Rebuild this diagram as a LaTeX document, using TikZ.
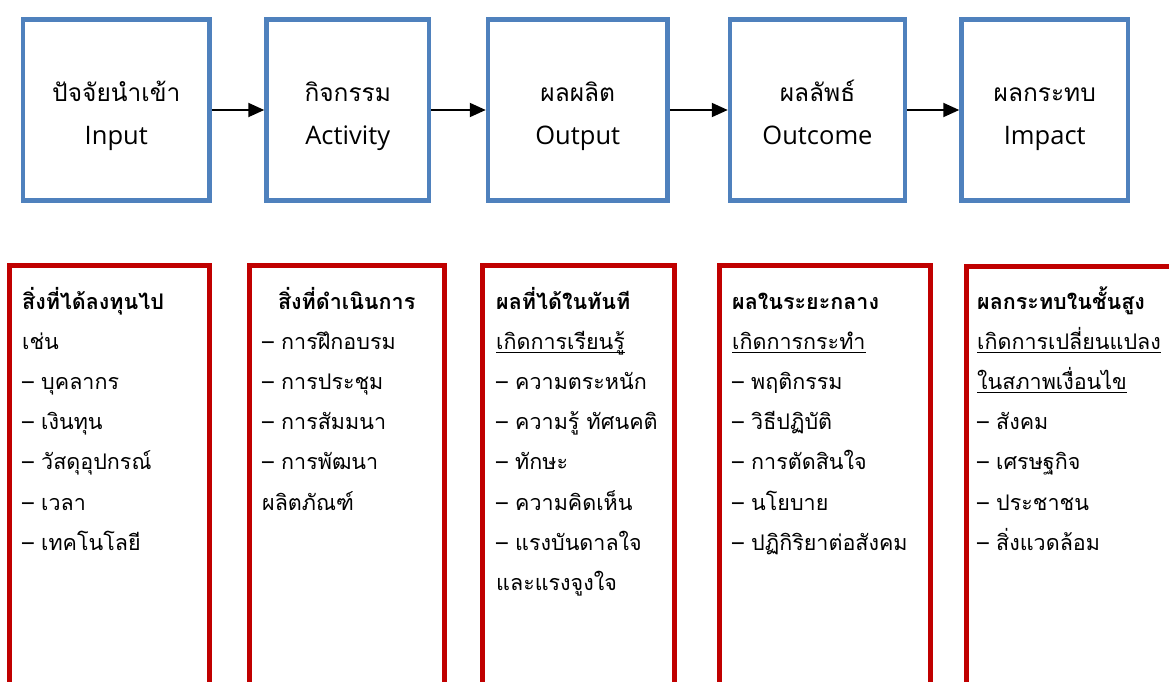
\documentclass[tikz,border=0pt]{standalone}
\usepackage{fontspec}
\usetikzlibrary{arrows.meta}
\newfontfamily\thaifont[Script=Thai]{Loma}
\newfontfamily\latinfont{Open Sans}
\definecolor{boxblue}{HTML}{4F81BD}
\definecolor{boxred}{HTML}{C00000}
\newcommand{\ulx}[1]{{\setbox0\hbox{#1}\rlap{\rule[-4pt]{\wd0}{1.3pt}}\box0}}
\tikzset{
  topbox/.style={draw=boxblue, line width=4.5pt, minimum height=181pt, inner sep=0pt, outer sep=0pt, fill=white},
  botbox/.style={draw=boxred, line width=5pt, inner sep=0pt, outer sep=0pt, anchor=north west},
  thtop/.style={font=\thaifont\fontsize{24.5}{28}\selectfont, anchor=base, inner sep=0pt},
  entop/.style={font=\latinfont\fontsize{25.5}{30}\selectfont, anchor=base, inner sep=0pt},
  head/.style={font=\thaifont\bfseries\fontsize{21.5}{26}\selectfont, inner sep=0pt},
  item/.style={font=\thaifont\fontsize{21.5}{26}\selectfont, anchor=base west, inner sep=0pt},
  flow/.style={-{Triangle[length=16pt,width=14pt]}, line width=2pt, black}
}
\begin{document}
\begin{tikzpicture}[x=1pt,y=-1pt]
\useasboundingbox (0,0) rectangle (1169,682);
\clip (0,0) rectangle (1169,682);
\fill[white] (0,0) rectangle (1169,682);
% top boxes
\node[topbox, minimum width=186.5pt] (b1) at (116.25,110) {};
\node[topbox, minimum width=162.5pt] (b2) at (347.75,110) {};
\node[topbox, minimum width=179.5pt] (b3) at (577.75,110) {};
\node[topbox, minimum width=175pt]   (b4) at (817.5,110) {};
\node[topbox, minimum width=166.5pt] (b5) at (1044.75,110) {};
\node[thtop] (t1) at (116.25,102) {ปัจจัยนำเข้า};
\node[entop] (e1) at (116.25,144) {Input};
\node[thtop] (t2) at (347.75,102) {กิจกรรม};
\node[entop] (e2) at (347.75,144) {Activity};
\node[thtop] (t3) at (577.75,102) {ผลผลิต};
\node[entop] (e3) at (577.75,144) {Output};
\node[thtop] (t4) at (817.5,102) {ผลลัพธ์};
\node[entop] (e4) at (817.5,144) {Outcome};
\node[thtop] (t5) at (1044.75,102) {ผลกระทบ};
\node[entop] (e5) at (1044.75,144) {Impact};
\draw[flow] ([xshift=2.25pt]b1.east) -- ([xshift=-2.25pt]b2.west);
\draw[flow] ([xshift=2.25pt]b2.east) -- ([xshift=-2.25pt]b3.west);
\draw[flow] ([xshift=2.25pt]b3.east) -- ([xshift=-2.25pt]b4.west);
\draw[flow] ([xshift=2.25pt]b4.east) -- ([xshift=-2.25pt]b5.west);
% bottom boxes
\node[botbox, minimum width=200pt, minimum height=450pt] (r1) at (9.5,265) {};
\node[botbox, minimum width=194.5pt, minimum height=450pt] (r2) at (249.5,265) {};
\node[botbox, minimum width=192.5pt, minimum height=450pt] (r3) at (482,265) {};
\node[botbox, minimum width=210.5pt, minimum height=450pt] (r4) at (719.5,265) {};
\node[botbox, minimum width=250pt, minimum height=450pt] (r5) at (966,266) {};
% box 1
\node[head, anchor=base west] (h1) at (22,309) {สิ่งที่ได้ลงทุนไป};
\foreach \t [count=\i] in {เช่น,– บุคลากร,– เงินทุน,– วัสดุอุปกรณ์,– เวลา,– เทคโนโลยี}
  \node[item] (p1\i) at (22,309+40.2*\i) {\t};
% box 2
\node[head, anchor=base] (h2) at (346.75,309) {สิ่งที่ดำเนินการ};
\foreach \t [count=\i] in {– การฝึกอบรม,– การประชุม,– การสัมมนา,– การพัฒนา,ผลิตภัณฑ์}
  \node[item] (p2\i) at (262,309+40.2*\i) {\t};
% box 3
\node[head, anchor=base west] (h3) at (496,309) {ผลที่ได้ในทันที};
\foreach \t [count=\i] in {\ulx{เกิดการเรียนรู้},– ความตระหนัก,– ความรู้ ทัศนคติ,– ทักษะ,– ความคิดเห็น,– แรงบันดาลใจ,และแรงจูงใจ}
  \node[item] (p3\i) at (496,309+40.2*\i) {\t};
% box 4
\node[head, anchor=base west] (h4) at (732,309) {ผลในระยะกลาง};
\foreach \t [count=\i] in {\ulx{เกิดการกระทำ},– พฤติกรรม,– วิธีปฏิบัติ,– การตัดสินใจ,– นโยบาย,– ปฏิกิริยาต่อสังคม}
  \node[item] (p4\i) at (732,309+40.2*\i) {\t};
% box 5
\node[head, anchor=base west] (h5) at (977,309) {ผลกระทบในชั้นสูง};
\foreach \t [count=\i] in {\ulx{เกิดการเปลี่ยนแปลง},\ulx{ในสภาพเงื่อนไข},– สังคม,– เศรษฐกิจ,– ประชาชน,– สิ่งแวดล้อม}
  \node[item] (p5\i) at (977,309+40.2*\i) {\t};
\end{tikzpicture}
\end{document}
